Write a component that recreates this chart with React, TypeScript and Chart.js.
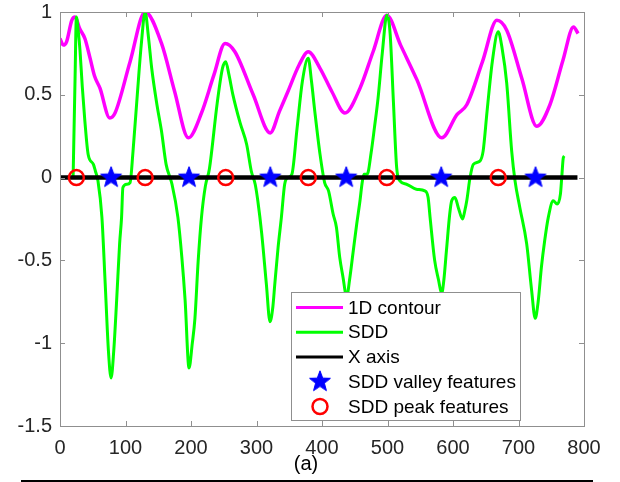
import React, { useEffect, useRef } from 'react';
import { Chart, registerables } from 'chart.js';

Chart.register(...registerables);

// ---- data ----
const contourX = [0, 5, 10, 18, 23, 30, 38, 46, 53, 61, 76, 84, 107, 130, 155, 175, 196, 216, 235, 252, 267, 295, 321, 335, 348, 365, 379, 397, 415, 435, 458, 478, 499, 520, 545, 583, 606, 621, 645, 667, 682, 705, 728, 748, 768, 784, 791];
const contourY = [0.84, 0.80, 0.82, 0.95, 0.97, 0.90, 0.84, 0.72, 0.61, 0.54, 0.36, 0.39, 0.70, 1.0, 0.81, 0.52, 0.24, 0.39, 0.62, 0.81, 0.76, 0.50, 0.27, 0.40, 0.52, 0.68, 0.76, 0.66, 0.52, 0.39, 0.54, 0.76, 0.98, 0.80, 0.59, 0.24, 0.38, 0.44, 0.70, 0.95, 0.89, 0.60, 0.31, 0.44, 0.71, 0.91, 0.87];

const sddX = [20, 23, 25, 28, 30.5, 34, 38, 43, 51, 54, 58, 64, 69, 74, 78, 82, 86.5, 91, 94, 96, 102, 107, 111.5, 118, 124, 130, 135, 140, 148, 155, 162, 168, 171, 180, 186, 191, 197, 202, 206, 211, 216, 222, 228, 240, 248, 253, 258, 264, 275, 285, 292, 298, 302, 308, 315, 320.6, 325, 328, 333, 338, 343, 348, 354, 362, 370, 379, 384, 389, 397, 404, 410, 417, 422, 427, 432, 437.7, 442, 447.8, 453, 458, 461, 464, 469, 475, 480, 485.6, 492, 499, 504, 509, 514, 519, 529, 544, 557, 562, 565, 572, 578, 582.7, 586, 590, 595, 598, 603, 608, 614.7, 618, 621, 626, 631, 641, 646, 652, 660, 669, 675, 682, 689.6, 694.7, 702, 712.5, 720, 725.5, 730, 735, 740, 745.5, 753, 759, 764, 766, 768.4, 770];
const sddY = [0.0, 0.6, 0.97, 0.88, 0.77, 0.55, 0.34, 0.14, 0.08, 0.04, -0.02, -0.24, -0.64, -1.05, -1.21, -1.05, -0.74, -0.40, -0.24, -0.06, -0.04, -0.03, 0.16, 0.50, 0.80, 1.0, 0.85, 0.66, 0.44, 0.28, 0.08, 0.0, -0.04, -0.24, -0.48, -0.74, -1.15, -1.0, -0.85, -0.5, -0.24, -0.05, 0.05, 0.45, 0.66, 0.70, 0.62, 0.50, 0.33, 0.20, 0.04, -0.04, -0.14, -0.34, -0.64, -0.87, -0.78, -0.64, -0.42, -0.24, -0.04, 0.0, 0.02, 0.30, 0.58, 0.72, 0.58, 0.40, 0.14, -0.03, -0.08, -0.22, -0.30, -0.48, -0.60, -0.72, -0.62, -0.44, -0.28, -0.14, -0.04, 0.02, 0.02, 0.15, 0.30, 0.48, 0.75, 0.98, 0.87, 0.46, 0.06, -0.02, -0.04, -0.07, -0.08, -0.12, -0.24, -0.50, -0.62, -0.70, -0.62, -0.44, -0.22, -0.14, -0.12, -0.18, -0.25, -0.20, -0.14, 0.0, 0.08, 0.10, 0.16, 0.40, 0.70, 0.88, 0.78, 0.57, 0.16, -0.02, -0.18, -0.40, -0.68, -0.85, -0.75, -0.54, -0.38, -0.24, -0.14, -0.16, -0.10, 0.0, 0.12, 0.13];

const axisLineX = [0, 790];
const valleyX = [78, 197, 321, 437, 582, 726];
const peakX = [25, 130, 253, 379, 499, 669];

const xTicks = [0, 100, 200, 300, 400, 500, 600, 700, 800];
const xTickLabels = ['0', '100', '200', '300', '400', '500', '600', '700', '800'];
const yTicks = [-1.5, -1, -0.5, 0, 0.5, 1];
const yTickLabels = ['-1.5', '-1', '-0.5', '0', '0.5', '1'];

const legendLabels = ['1D contour', 'SDD', 'X axis', 'SDD valley features', 'SDD peak features'];
const caption = '(a)';

const FONT = '"Liberation Sans", Arial, sans-serif';
const AXIS_GREY = '#8f8f8f';

function makeStar(R: number, color: string): HTMLCanvasElement {
  const size = Math.ceil(R * 2) + 2;
  const c = document.createElement('canvas');
  c.width = size;
  c.height = size;
  const g = c.getContext('2d')!;
  const cx = size / 2;
  const cy = size / 2;
  const r = R * 0.42;
  g.beginPath();
  for (let i = 0; i < 10; i++) {
    const rad = i % 2 === 0 ? R : r;
    const ang = -Math.PI / 2 + (i * Math.PI) / 5;
    const px = cx + rad * Math.cos(ang);
    const py = cy + rad * Math.sin(ang);
    if (i === 0) g.moveTo(px, py);
    else g.lineTo(px, py);
  }
  g.closePath();
  g.fillStyle = color;
  g.fill();
  g.lineWidth = 1;
  g.strokeStyle = color;
  g.stroke();
  return c;
}

export default function App() {
  const ref = useRef<HTMLCanvasElement>(null);

  useEffect(() => {
    const canvas = ref.current!;
    const star = makeStar(11, '#0000ff');

    const boxPlugin = {
      id: 'matlabBox',
      afterDraw(chart: any) {
        const { ctx, chartArea: a, scales } = chart;
        const xs = scales.x;
        const ys = scales.y;
        ctx.save();
        // box
        ctx.strokeStyle = AXIS_GREY;
        ctx.lineWidth = 1;
        ctx.strokeRect(Math.round(a.left) + 0.5, Math.round(a.top) + 0.5, Math.round(a.right - a.left), Math.round(a.bottom - a.top));
        // inward ticks
        ctx.beginPath();
        xTicks.forEach((v) => {
          const px = Math.round(xs.getPixelForValue(v)) + 0.5;
          ctx.moveTo(px, a.bottom);
          ctx.lineTo(px, a.bottom - 5);
          ctx.moveTo(px, a.top);
          ctx.lineTo(px, a.top + 5);
        });
        yTicks.forEach((v) => {
          const py = Math.round(ys.getPixelForValue(v)) + 0.5;
          ctx.moveTo(a.left, py);
          ctx.lineTo(a.left + 5, py);
          ctx.moveTo(a.right, py);
          ctx.lineTo(a.right - 5, py);
        });
        ctx.stroke();

        // legend
        const lx = 291.5, ly = 292.5, lw = 229, lh = 128;
        ctx.fillStyle = '#ffffff';
        ctx.fillRect(lx, ly, lw, lh);
        ctx.strokeStyle = AXIS_GREY;
        ctx.lineWidth = 1;
        ctx.strokeRect(lx, ly, lw, lh);
        const colors = ['#ff00ff', '#00ff00', '#000000'];
        legendLabels.forEach((label, i) => {
          const y = 307.5 + i * 24.75;
          if (i < 3) {
            ctx.beginPath();
            ctx.strokeStyle = colors[i];
            ctx.lineWidth = 3;
            ctx.moveTo(296, y);
            ctx.lineTo(343, y);
            ctx.stroke();
          } else if (i === 3) {
            ctx.drawImage(star, 320 - star.width / 2, y - star.height / 2);
          } else {
            ctx.beginPath();
            ctx.strokeStyle = '#ff0000';
            ctx.lineWidth = 2.5;
            ctx.arc(320, y, 7.5, 0, Math.PI * 2);
            ctx.stroke();
          }
          ctx.fillStyle = '#000000';
          ctx.font = '19px ' + FONT;
          ctx.textAlign = 'left';
          ctx.textBaseline = 'middle';
          ctx.fillText(label, 348, y + 1);
        });

        // caption and bottom rule
        ctx.fillStyle = '#000000';
        ctx.font = '20px ' + FONT;
        ctx.textAlign = 'center';
        ctx.textBaseline = 'middle';
        ctx.fillText(caption, 306, 464);
        ctx.fillRect(21, 480, 572, 2);
        ctx.restore();
      },
    };

    const tickFont = { family: FONT, size: 20 };

    const chart = new Chart(canvas, {
      type: 'scatter',
      data: {
        datasets: [
          {
            label: legendLabels[0],
            data: contourX.map((x, i) => ({ x, y: contourY[i] })),
            showLine: true,
            borderColor: '#ff00ff',
            borderWidth: 3.5,
            pointRadius: 0,
            cubicInterpolationMode: 'monotone',
            order: 5,
          },
          {
            label: legendLabels[1],
            data: sddX.map((x, i) => ({ x, y: sddY[i] })),
            showLine: true,
            borderColor: '#00ff00',
            borderWidth: 3,
            pointRadius: 0,
            cubicInterpolationMode: 'monotone',
            order: 4,
          },
          {
            label: legendLabels[2],
            data: axisLineX.map((x) => ({ x, y: 0 })),
            showLine: true,
            borderColor: '#000000',
            borderWidth: 4.5,
            pointRadius: 0,
            order: 3,
          },
          {
            label: legendLabels[3],
            data: valleyX.map((x) => ({ x, y: 0 })),
            pointStyle: star as any,
            pointRadius: 11,
            order: 2,
          },
          {
            label: legendLabels[4],
            data: peakX.map((x) => ({ x, y: 0 })),
            pointStyle: 'circle',
            pointRadius: 7.5,
            pointBorderWidth: 2.5,
            pointBorderColor: '#ff0000',
            pointBackgroundColor: 'rgba(0,0,0,0)',
            order: 1,
          },
        ],
      },
      options: {
        responsive: false,
        animation: false,
        devicePixelRatio: 1,
        layout: { padding: { left: 0, right: 36, top: 12, bottom: 0 } },
        plugins: {
          legend: { display: false },
          tooltip: { enabled: false },
        },
        scales: {
          x: {
            type: 'linear',
            min: 0,
            max: 800,
            grid: { display: false, drawTicks: false },
            border: { display: false },
            ticks: {
              font: tickFont,
              color: '#262626',
              padding: 10,
              maxRotation: 0,
              autoSkip: false,
              callback: (v: number) => {
                const i = xTicks.indexOf(v);
                return i >= 0 ? xTickLabels[i] : '';
              },
            },
            afterBuildTicks: (s: any) => {
              s.ticks = xTicks.map((v) => ({ value: v }));
            },
            afterFit: (s: any) => {
              s.height = 56;
              s.paddingLeft = 0;
              s.paddingRight = 0;
            },
          },
          y: {
            type: 'linear',
            min: -1.5,
            max: 1,
            grid: { display: false, drawTicks: false },
            border: { display: false },
            ticks: {
              font: tickFont,
              color: '#262626',
              padding: 8,
              autoSkip: false,
              callback: (v: number) => {
                const i = yTicks.indexOf(v);
                return i >= 0 ? yTickLabels[i] : '';
              },
            },
            afterBuildTicks: (s: any) => {
              s.ticks = yTicks.map((v) => ({ value: v }));
            },
            afterFit: (s: any) => {
              s.width = 60;
              s.paddingTop = 0;
              s.paddingBottom = 0;
            },
          },
        },
      } as any,
      plugins: [boxPlugin],
    });

    return () => chart.destroy();
  }, []);

  return (
    <div style={{ position: 'absolute', left: 0, top: 0, width: 620, height: 482, background: '#fff' }}>
      <canvas ref={ref} width={620} height={482} style={{ display: 'block', width: 620, height: 482 }} />
    </div>
  );
}
